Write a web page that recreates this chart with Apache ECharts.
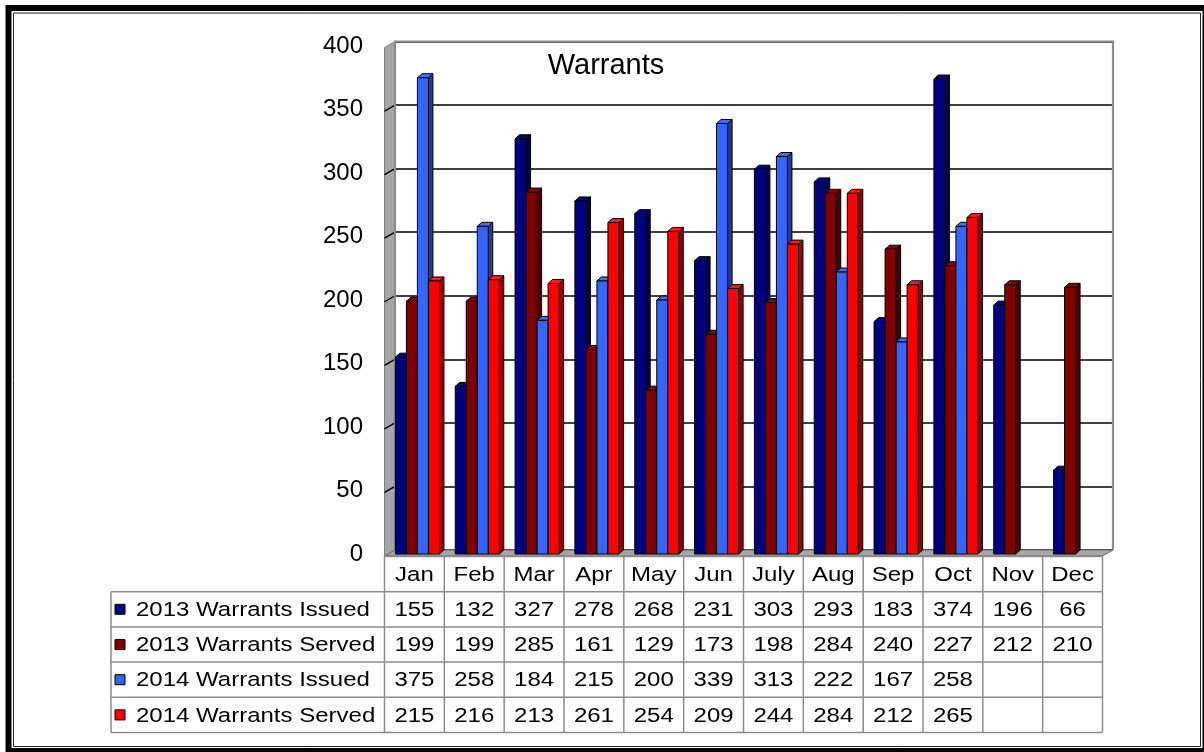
<!DOCTYPE html>
<html><head><meta charset="utf-8">
<script src="https://cdn.jsdelivr.net/npm/echarts/dist/echarts.min.js"></script>
<style>html,body{margin:0;padding:0;background:#fff}#c{width:1204px;height:752px}</style>
</head><body><div id="c"></div>
<script>
// ---- data ----
const months = ['Jan','Feb','Mar','Apr','May','Jun','July','Aug','Sep','Oct','Nov','Dec'];
const issued2013 = [155,132,327,278,268,231,303,293,183,374,196,66];
const served2013 = [199,199,285,161,129,173,198,284,240,227,212,210];
const issued2014 = [375,258,184,215,200,339,313,222,167,258,null,null];
const served2014 = [215,216,213,261,254,209,244,284,212,265,null,null];
const seriesNames = ['2013 Warrants Issued','2013 Warrants Served','2014 Warrants Issued','2014 Warrants Served'];
const seriesValues = [issued2013, served2013, issued2014, served2014];
const yTickValues = [0,50,100,150,200,250,300,350,400];
const titleText = 'Warrants';

// ---- styles ----
const FONT = 'Liberation Sans, Arial, Helvetica, sans-serif';
const frontColors = ['#000080','#800000','#3366ff','#ff0000'];
const sideColors  = ['#00004c','#4c0000','#1f3d99','#990000'];
const topColors   = ['#000090','#8c0000','#3f70ff','#ff1a1a'];
const WALL_DX = 10.5, WALL_DY = 6;   // depth of wall / floor
const BAR_DX = 4.5, BAR_DY = -4;     // depth of each bar

const chart = echarts.init(document.getElementById('c'), null, {renderer:'canvas'});

function makeRender(k) {
  return function (params, api) {
    const v = api.value(1);
    if (v == null || isNaN(v)) return;
    const ci = api.value(0);
    const top = api.coord([ci, v]);
    const base = api.coord([ci, 0]);
    const band = api.size([1, 0])[0];
    const bw = band * 0.184;
    const x0 = top[0] - band * 0.393 + k * bw;
    const x1 = x0 + bw;
    const yt = top[1], yb = base[1];
    return {
      type: 'group',
      children: [
        {type:'polygon', shape:{points:[[x1,yb],[x1,yt],[x1+BAR_DX,yt+BAR_DY],[x1+BAR_DX,yb+BAR_DY]]},
         style:{fill:sideColors[k], stroke:'#000', lineWidth:1}},
        {type:'polygon', shape:{points:[[x0,yt],[x0+BAR_DX,yt+BAR_DY],[x1+BAR_DX,yt+BAR_DY],[x1,yt]]},
         style:{fill:topColors[k], stroke:'#000', lineWidth:1}},
        {type:'rect', shape:{x:x0, y:yt, width:bw, height:yb-yt},
         style:{fill:frontColors[k], stroke:'#000', lineWidth:1}}
      ]
    };
  };
}

const series = seriesValues.map((vals, k) => ({
  type: 'custom',
  name: seriesNames[k],
  xAxisIndex: 0, yAxisIndex: 0,
  z: 5,
  renderItem: makeRender(k),
  encode: {x: 0, y: 1},
  data: vals.map((v, i) => [i, v == null ? '-' : v])
}));

chart.setOption({
  animation: false,
  backgroundColor: '#fff',
  grid: [
    {left: 389, top: 46, width: 718, height: 508},      // bar plane
    {left: 395, top: 41.5, width: 718, height: 508.5}   // back wall plane
  ],
  xAxis: [
    {type:'category', gridIndex:0, data: months, show:false},
    {type:'category', gridIndex:1, data: months, show:false}
  ],
  yAxis: [
    {type:'value', gridIndex:0, min:yTickValues[0], max:yTickValues[yTickValues.length-1], interval:50,
     axisLine:{show:false}, axisTick:{show:false}, splitLine:{show:false},
     axisLabel:{fontSize:24, color:'#000', fontFamily:FONT, margin:26}},
    {type:'value', gridIndex:1, min:yTickValues[0], max:yTickValues[yTickValues.length-1], interval:50,
     axisLine:{show:false}, axisTick:{show:false}, axisLabel:{show:false},
     splitLine:{show:true, lineStyle:{color:'#000', width:1.6}}}
  ],
  series: series
});

// ---- decorations (wall, floor, table) derived from the axes ----
const g = [];
const c0 = chart.convertToPixel({gridIndex:1}, [0, 0]);
const c1 = chart.convertToPixel({gridIndex:1}, [1, 0]);
const band = c1[0] - c0[0];
const backLeft = c0[0] - band / 2;
const backRight = backLeft + band * months.length;
const yBack = v => chart.convertToPixel({gridIndex:1}, [0, v])[1];
const yTop = yBack(yTickValues[yTickValues.length-1]);
const yZero = yBack(0);

// left wall
g.push({type:'polygon', z:1, shape:{points:[[backLeft, yTop],[backLeft-WALL_DX, yTop+WALL_DY],[backLeft-WALL_DX, yZero+WALL_DY],[backLeft, yZero]]},
  style:{fill:'#a6a6a6', stroke:'#7f7f7f', lineWidth:1}});
// wall tick lines
yTickValues.slice(1, -1).forEach(v => {
  const y = yBack(v);
  g.push({type:'line', z:1, shape:{x1:backLeft, y1:y, x2:backLeft-WALL_DX, y2:y+WALL_DY}, style:{stroke:'#000', lineWidth:1.4}});
});
// back wall border
g.push({type:'polyline', z:1, shape:{points:[[backLeft, yZero],[backLeft, yTop],[backRight, yTop],[backRight, yZero]]},
  style:{stroke:'#8c8c8c', lineWidth:2.2, fill:null}});
// floor
g.push({type:'polygon', z:1, shape:{points:[[backLeft, yZero],[backRight, yZero],[backRight-WALL_DX, yZero+WALL_DY],[backLeft-WALL_DX, yZero+WALL_DY]]},
  style:{fill:'#a6a6a6', stroke:'#6e6e6e', lineWidth:1}});

// title
g.push({type:'text', z:10, x:606, y:66, style:{text:titleText, font:'29px '+FONT, fill:'#000', align:'center', verticalAlign:'middle'}});

// data table
const colLeft = backLeft - WALL_DX;
const colRight = colLeft + band * months.length;
const tableLeft = 111;
const headerTop = yZero + WALL_DY + 0.5;
const rowH = 35.2;
const lineStyle = {stroke:'#8c8c8c', lineWidth:1.5};
const txt = (s, x, y, align) => ({type:'text', z:10, x:x, y:y, scaleY:0.86,
  style:{text:String(s), font:'24px '+FONT, fill:'#000', align:align, verticalAlign:'middle'}});

// horizontal lines
g.push({type:'line', z:9, shape:{x1:colLeft, y1:headerTop, x2:colRight, y2:headerTop}, style:lineStyle});
for (let r = 1; r <= seriesNames.length + 1; r++) {
  const y = headerTop + r * rowH;
  g.push({type:'line', z:9, shape:{x1:tableLeft, y1:y, x2:colRight, y2:y}, style:lineStyle});
}
const tableBottom = headerTop + (seriesNames.length + 1) * rowH;
// vertical lines
g.push({type:'line', z:9, shape:{x1:tableLeft, y1:headerTop+rowH, x2:tableLeft, y2:tableBottom}, style:lineStyle});
for (let i = 0; i <= months.length; i++) {
  const x = colLeft + i * band;
  g.push({type:'line', z:9, shape:{x1:x, y1:headerTop, x2:x, y2:tableBottom}, style:lineStyle});
}
// header
months.forEach((m, i) => g.push(txt(m, colLeft + (i + 0.5) * band, headerTop + rowH / 2 + 1, 'center')));
// rows
seriesNames.forEach((name, k) => {
  const yc = headerTop + (k + 1.5) * rowH + 1;
  g.push({type:'rect', z:10, shape:{x:115, y:yc-6, width:10, height:10}, style:{fill:frontColors[k], stroke:'#000', lineWidth:1}});
  g.push(txt(name, 136, yc, 'left'));
  seriesValues[k].forEach((v, i) => {
    if (v != null) g.push(txt(v, colLeft + (i + 0.5) * band, yc, 'center'));
  });
});

// outer double frame
g.push({type:'rect', z:20, shape:{x:8.5, y:8, width:1197, height:743}, style:{fill:null, stroke:'#000', lineWidth:6}});
g.push({type:'rect', z:20, shape:{x:13.5, y:13, width:1187, height:733.5}, style:{fill:null, stroke:'#222', lineWidth:1}});

chart.setOption({graphic: g});
</script></body></html>
